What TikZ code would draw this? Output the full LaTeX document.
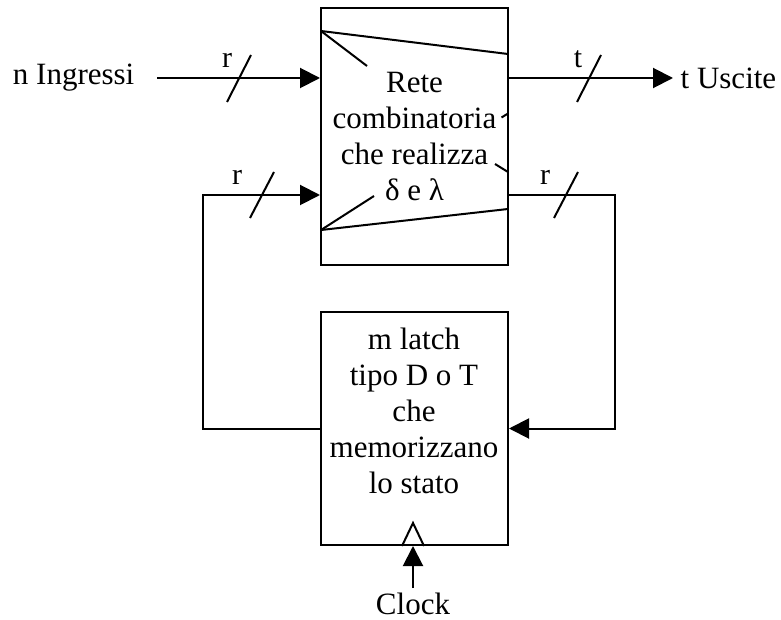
\documentclass[tikz,border=0pt]{standalone}
\usepackage{fontspec}
\setmainfont{Liberation Serif}
\usetikzlibrary{arrows.meta,positioning,calc}

\begin{document}
\begin{tikzpicture}[
    x=0.5pt, y=-0.5pt,
    line width=1pt,
    block/.style={rectangle, draw, minimum width=93.5pt, align=center, font=\fontsize{15.5}{18}\selectfont},
    lbl/.style={font=\fontsize{15.5}{18}\selectfont},
    bus/.style={font=\fontsize{15}{18}\selectfont, anchor=base, inner sep=0pt},
    slash/.style={line width=1pt},
    arrow/.style={-{Triangle[length=10pt, width=10pt]}}
]
\useasboundingbox (0,0) rectangle (781,620);

% Combinational network
\node[block, minimum height=128.5pt] (rete) at (414.5,136.5) {Rete\\combinatoria\\che realizza\\δ e λ};
\draw (321,31) -- (508,54);
\draw (321,230) -- (508,209);
\draw (321,31) -- (367,66);
\draw (321,230) -- (374,196);
\draw (501.5,117.5) -- (508,113.5);
\draw (495,164) -- (508,172);

% State latches
\node[block, minimum height=116.5pt] (latch) at (414.5,428.5) {};
\node[lbl, align=center] (latchtxt) at (414,411) {m latch\\tipo D o T\\che\\memorizzano\\lo stato};

% Inputs and outputs
\node[lbl, anchor=east] (ingr) at (142,78) {n Ingressi};
\node[lbl, anchor=west] (usc) at (673,78) {t Uscite};
\node[lbl, inner sep=2pt] (clk) at (413,604) {Clock};
\coordinate (loopL) at (203,195);
\coordinate (loopR) at (615,195);

% Arrows
\draw[arrow] ([xshift=7.5pt]ingr.east) -- (rete.west |- ingr.east);
\draw[arrow] (rete.east |- usc.west) -- (usc.west);
\draw[arrow] (latch.west) -| (loopL) -- (rete.west |- loopL);
\draw[arrow] (rete.east |- loopR) -- (loopR) |- (latch.east);
\draw[arrow] (clk.north) -- (clk.north |- latch.south);
\draw ([xshift=-5.5pt]clk.north |- latch.south) -- ([yshift=11.5pt]clk.north |- latch.south) -- ([xshift=5.5pt]clk.north |- latch.south);

% Bus widths
\draw[slash] (227,102) -- (251,55);
\node[bus] (rin) at (227,68) {r};
\draw[slash] (577,102) -- (601,55);
\node[bus] (tout) at (578,68) {t};
\draw[slash] (250,218) -- (274,172);
\node[bus] (rfbl) at (237,185) {r};
\draw[slash] (554,218) -- (578,172);
\node[bus] (rfbr) at (545,185) {r};

\end{tikzpicture}
\end{document}
